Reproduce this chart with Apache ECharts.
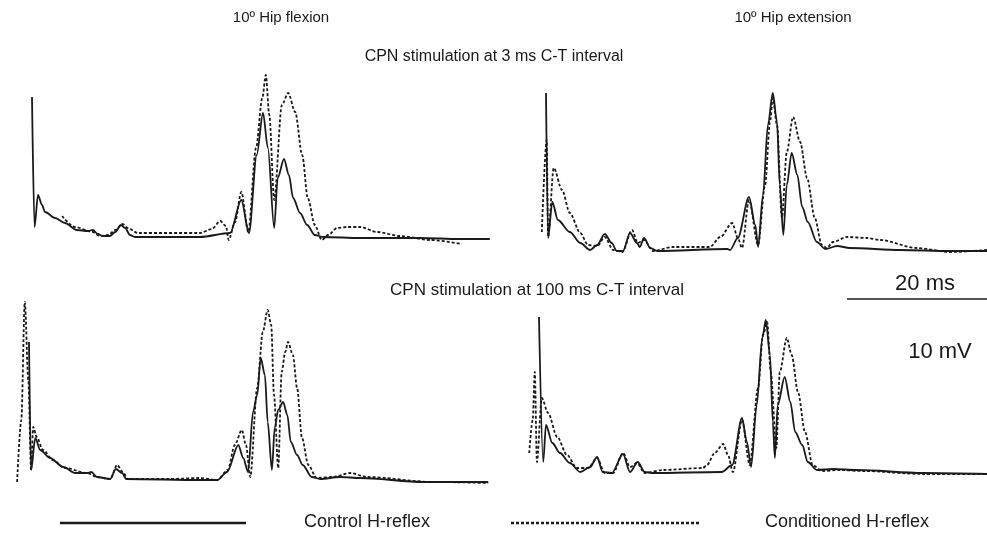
<!DOCTYPE html>
<html>
<head>
<meta charset="utf-8">
<script src="https://cdn.jsdelivr.net/npm/echarts@6/dist/echarts.min.js"></script>
<style>
  html, body { margin: 0; padding: 0; background: #fff; }
  #chart { width: 987px; height: 533px; }
</style>
</head>
<body>
<div id="chart"></div>
<script>
// Traces as [time ms, amplitude mV] pairs, time 0 = stimulus artifact

// 10º hip flexion, 3 ms C-T interval
const flex3Control = [[0,14.0],[0.36,1.0],[0.86,4.2],[1.43,3.2],[1.86,2.5],[3.3,1.9],[4.7,1.4],[6.4,0.7],[8.0,0.6],[8.7,0.7],[9.4,0.3],[10.1,0.1],[11.1,0.1],[11.9,0.5],[12.7,1.2],[13.3,0.9],[14.0,0.2],[14.7,0],[24.0,0],[28.3,0.4],[29.9,3.7],[31.0,0.4],[32.1,8.2],[33.0,12.4],[33.7,8.9],[34.6,0.9],[35.1,5.9],[36.0,7.8],[36.7,6.2],[37.3,3.9],[38.3,2.4],[39.3,1.2],[40.4,0.2],[41.6,0],[46.9,-0.1],[55.4,-0.1],[61.1,-0.2],[65.4,-0.2]];
const flex3Conditioned = [[4.3,2.1],[6.1,1.0],[8.7,0.5],[9.7,0.1],[10.9,0.2],[11.9,0.7],[12.9,1.3],[13.7,0.9],[15.1,0.4],[24.0,0.4],[25.7,0.8],[26.9,1.6],[27.7,1.1],[28.1,-0.3],[29.0,1.5],[29.9,4.5],[30.9,0.5],[32.0,8.9],[32.9,13.9],[33.4,16.2],[33.9,12.2],[34.6,3.7],[35.7,13.2],[36.6,14.4],[37.6,12.5],[38.6,8.2],[39.4,3.9],[40.4,1.2],[41.4,-0.3],[42.3,0.2],[43.6,0.9],[45.0,1.0],[46.9,1.0],[49.3,0.5],[52.6,0.1],[56.9,-0.3],[61.4,-0.7]];

// 10º hip extension, 3 ms C-T interval
const ext3Control = [[0,15.7],[0.3,1.2],[0.9,4.8],[1.7,3.0],[3.4,1.8],[4.9,0.7],[6.3,0],[7.3,0.5],[8.4,1.6],[9.4,0.7],[10.1,-0.1],[11.0,-0.1],[12.0,1.7],[13.0,0.7],[13.4,0.3],[14.0,1.2],[14.9,0.2],[15.9,-0.1],[25.9,0.1],[26.3,0],[27.4,1.2],[29.0,5.3],[29.9,2.5],[30.3,0.3],[31.0,5.5],[31.7,12.5],[32.4,15.7],[33.0,12.8],[33.4,6.5],[33.9,1.5],[34.4,6.5],[35.1,9.7],[35.9,7.5],[36.6,4.3],[37.4,2.8],[38.7,0.8],[39.9,0.1],[41.6,0.4],[43.4,0.2],[50.6,0],[57.7,-0.1],[63.0,-0.1]];
const ext3Conditioned = [[-0.6,1.8],[0.1,11.0],[0.3,1.3],[1.1,8.2],[2.3,6.0],[3.4,3.7],[4.9,1.7],[6.0,0.5],[7.3,0.4],[8.4,1.3],[9.6,0],[10.9,-0.2],[12.3,2.0],[13.1,0.7],[14.0,1.0],[15.3,-0.1],[18.1,0.3],[23.4,0.3],[24.9,1.3],[26.6,2.7],[27.4,1.2],[28.0,0.2],[29.0,5.0],[30.3,0.5],[31.3,6.5],[32.0,12.8],[32.4,15.2],[33.0,12.5],[33.7,3.2],[34.4,9.8],[35.3,13.3],[36.3,10.8],[37.3,7.2],[38.4,3.2],[39.4,0.5],[40.1,0.2],[41.0,0.8],[43.0,1.3],[45.9,1.2],[47.7,1.0],[53.0,0.2],[57.7,-0.2],[63.0,0]];

// 10º hip flexion, 100 ms C-T interval
const flex100Control = [[0,13.8],[0.3,1.0],[0.9,4.2],[1.6,3.0],[3.0,2.2],[4.9,1.3],[6.6,0.7],[8.3,0.7],[8.9,0.8],[9.7,0.3],[11.6,0.1],[12.4,1.1],[13.3,0.7],[13.9,0.1],[24.4,0],[26.9,0],[28.3,0.8],[29.9,3.5],[30.6,2.2],[31.3,0.8],[32.0,6.8],[32.6,8.5],[33.1,12.2],[33.7,10.5],[34.1,5.8],[34.7,1.0],[35.1,5.2],[35.6,7.0],[36.3,7.8],[36.9,6.5],[37.4,3.8],[38.3,2.5],[39.1,1.5],[40.4,0.3],[41.6,0.1],[44.4,0.3],[47.3,0.2],[56.3,-0.2],[65.6,-0.2]];
const flex100Conditioned = [[-1.7,-0.2],[-1.1,6.0],[-0.6,17.8],[-0.1,10.0],[0.3,1.0],[0.6,5.3],[1.1,4.3],[2.0,3.0],[3.4,2.0],[5.1,1.2],[8.3,0.7],[9.7,0.3],[11.6,0.1],[12.6,1.5],[13.4,0.8],[14.1,0.1],[20.1,0.1],[24.4,0.2],[26.9,0],[28.4,1.0],[29.4,3.5],[30.4,5.0],[31.0,3.5],[31.6,0.3],[32.6,9.2],[33.4,14.8],[34.1,17.0],[34.6,15.5],[35.0,8.5],[35.6,1.2],[36.1,10.8],[36.6,12.8],[37.0,13.8],[37.7,12.5],[38.3,9.2],[39.0,4.2],[39.9,1.5],[41.1,0.2],[43.4,0.3],[45.9,0.7],[48.3,0.3],[57.7,-0.2],[65.6,-0.3]];

// 10º hip extension, 100 ms C-T interval
const ext100Control = [[0,15.6],[0.6,1.1],[1.0,4.8],[1.9,3.0],[3.0,2.0],[4.4,1.0],[5.9,0.1],[7.3,0.6],[8.3,1.6],[9.1,0.1],[10.4,0],[12.0,1.9],[13.0,0.1],[14.1,1.1],[15.1,0.1],[16.3,0],[26.1,0.1],[27.6,0.8],[29.0,5.5],[29.7,3.1],[30.3,0.6],[31.1,6.8],[31.9,13.5],[32.4,15.3],[33.0,11.8],[33.4,5.1],[33.7,1.5],[34.1,6.8],[35.1,9.6],[35.9,7.1],[36.6,4.1],[37.6,2.8],[38.4,1.1],[39.7,0.3],[42.0,0.4],[45.4,0.3],[54.9,0],[64.0,-0.1]];
const ext100Conditioned = [[-1.4,2.0],[-0.9,5.3],[-0.6,10.1],[-0.3,1.1],[0.4,7.5],[1.3,6.0],[2.6,3.6],[4.0,1.8],[5.4,0.5],[7.0,0.5],[8.3,1.5],[9.4,0],[10.6,0],[12.0,2.0],[13.0,0.6],[14.0,1.0],[15.1,0],[17.7,0.3],[23.4,0.5],[24.0,0.8],[25.1,2.0],[26.3,2.9],[27.0,1.8],[27.7,0.1],[29.0,5.3],[30.1,0.8],[31.3,8.5],[32.0,13.8],[32.6,15.1],[33.1,10.1],[33.9,2.5],[34.4,10.1],[35.4,13.5],[36.1,11.8],[37.0,8.1],[38.0,4.1],[39.1,0.8],[40.4,0.2],[43.0,0.3],[46.3,0.2],[54.9,-0.1],[64.0,-0.1]];

const columnTitles = ['10º Hip flexion', '10º Hip extension'];
const rowTitles = ['CPN stimulation at 3 ms C-T interval', 'CPN stimulation at 100 ms C-T interval'];
const legendNames = ['Control H-reflex', 'Conditioned H-reflex'];
const scaleLabels = ['20 ms', '10 mV'];

const PX_PER_MS = 7;
const PX_PER_MV = 10;
const Y_MIN = -3, Y_MAX = 19;
const X_MIN = -4;
const INK = '#1a1a1a';
const FONT = 'Liberation Sans, Arial, sans-serif';

// x0/base = pixel position of time 0 and of the baseline
const panels = [
    { control: flex3Control, conditioned: flex3Conditioned, x0: 32, base: 237, xMax: 66 },
    { control: ext3Control, conditioned: ext3Conditioned, x0: 546, base: 250, xMax: 63 },
    { control: flex100Control, conditioned: flex100Conditioned, x0: 29, base: 480, xMax: 66 },
    { control: ext100Control, conditioned: ext100Conditioned, x0: 539, base: 473, xMax: 64 }
];

const chart = echarts.init(document.getElementById('chart'));

const grids = [], xAxes = [], yAxes = [], series = [];
panels.forEach(function(p, i) {
    grids.push({
        left: p.x0 + X_MIN * PX_PER_MS,
        top: p.base - Y_MAX * PX_PER_MV,
        width: (p.xMax - X_MIN) * PX_PER_MS,
        height: (Y_MAX - Y_MIN) * PX_PER_MV
    });
    xAxes.push({ type: 'value', gridIndex: i, min: X_MIN, max: p.xMax, show: false });
    yAxes.push({ type: 'value', gridIndex: i, min: Y_MIN, max: Y_MAX, show: false });
    series.push({
        name: legendNames[1], type: 'line', xAxisIndex: i, yAxisIndex: i,
        data: p.conditioned, showSymbol: false, smooth: 0.3, smoothMonotone: 'x',
        lineStyle: { color: INK, width: 1.8, type: [3, 2] }, silent: true, z: 2
    });
    series.push({
        name: legendNames[0], type: 'line', xAxisIndex: i, yAxisIndex: i,
        data: p.control, showSymbol: false, smooth: 0.3, smoothMonotone: 'x',
        lineStyle: { color: INK, width: 1.8 }, silent: true, z: 3
    });
});

function label(text, x, y, size, align) {
    return {
        type: 'text', x: x, y: y,
        style: { text: text, font: size + 'px ' + FONT, fill: INK, align: align || 'center', verticalAlign: 'middle' }
    };
}

const graphics = [
    label(columnTitles[0], 281, 18, 15),
    label(columnTitles[1], 793, 18, 15),
    label(rowTitles[0], 494, 57, 16),
    label(rowTitles[1], 537, 290, 17),
    label(scaleLabels[0], 925, 284, 22),
    label(scaleLabels[1], 940, 352, 22),
    // 20 ms scale bar
    { type: 'line', shape: { x1: 847, y1: 299, x2: 987, y2: 299 }, style: { stroke: INK, lineWidth: 1.5 } },
    // legend
    { type: 'line', shape: { x1: 60, y1: 523, x2: 246, y2: 523 }, style: { stroke: INK, lineWidth: 2.5 } },
    label(legendNames[0], 304, 522, 18, 'left'),
    { type: 'line', shape: { x1: 511, y1: 523, x2: 700, y2: 523 }, style: { stroke: INK, lineWidth: 2.5, lineDash: [3, 2] } },
    label(legendNames[1], 765, 522, 18, 'left')
];

chart.setOption({
    backgroundColor: '#fff',
    animation: false,
    grid: grids,
    xAxis: xAxes,
    yAxis: yAxes,
    series: series,
    graphic: graphics
});
</script>
</body>
</html>
